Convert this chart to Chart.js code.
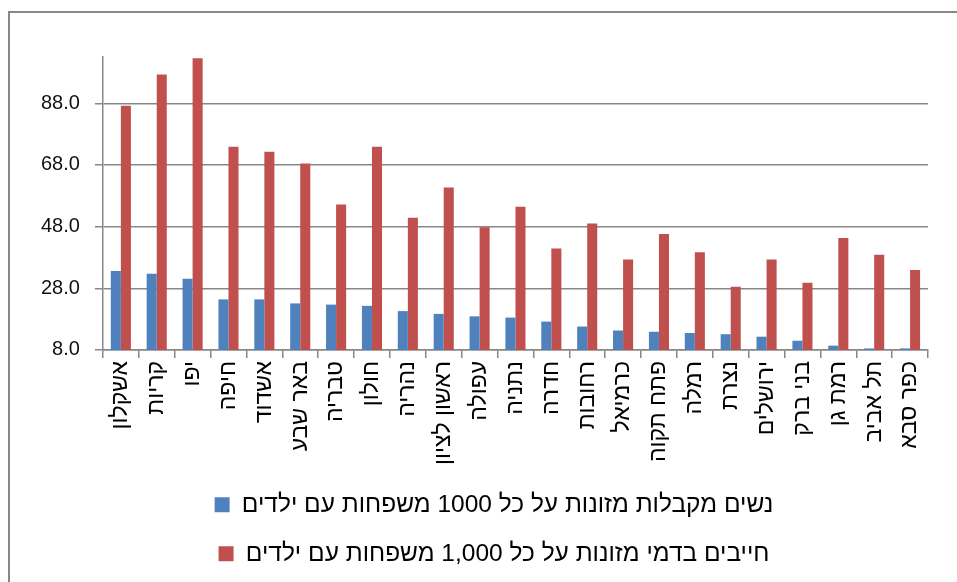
<!DOCTYPE html>
<html>
<head>
<meta charset="utf-8">
<script src="https://cdn.jsdelivr.net/npm/chart.js@4/dist/chart.umd.min.js"></script>
<style>
  html, body { margin: 0; padding: 0; background: #fff; overflow: hidden; }
  #frame { position: absolute; left: 8px; top: 11px; width: 1000px; height: 700px; border: 2px solid #878787; box-sizing: border-box; }
  #wrap { position: absolute; left: 0; top: 0; width: 957px; height: 582px; }
</style>
</head>
<body>
<div id="frame"></div>
<div id="wrap"><canvas id="c" width="957" height="582"></canvas></div>
<script>
const categories = ["אשקלון", "קריות", "יפו", "חיפה", "אשדוד", "באר שבע", "טבריה", "חולון", "נהריה", "ראשון לציון", "עפולה", "נתניה", "חדרה", "רחובות", "כרמיאל", "פתח תקוה", "רמלה", "נצרת", "ירושלים", "בני ברק", "רמת גן", "תל אביב", "כפר סבא"];
const womenReceiving = [33.6, 32.7, 31.1, 24.4, 24.4, 23.1, 22.7, 22.3, 20.6, 19.7, 18.9, 18.5, 17.2, 15.6, 14.3, 13.9, 13.5, 13.1, 12.3, 11.0, 9.4, 8.5, 8.5];
const debtors = [87.2, 97.3, 102.6, 73.9, 72.3, 68.5, 55.2, 73.9, 50.9, 60.7, 47.8, 54.4, 40.9, 49.0, 37.3, 45.6, 39.7, 28.5, 37.3, 29.8, 44.3, 38.9, 33.9];
const seriesNames = ["נשים מקבלות מזונות על כל 1000 משפחות עם ילדים", "חייבים בדמי מזונות על כל 1,000 משפחות עם ילדים"];
const yTicks = [8, 28, 48, 68, 88];
const yMin = 8, yMax = 103;

const legendShift = {
  id: 'legendShift',
  afterLayout(chart) {
    const l = chart.legend;
    if (l) { l.left += 17; l.right += 17; }
  }
};

new Chart(document.getElementById('c'), {
  type: 'bar',
  data: {
    labels: categories,
    datasets: [
      { label: seriesNames[0], data: womenReceiving, backgroundColor: '#4F81BD', borderWidth: 0 },
      { label: seriesNames[1], data: debtors, backgroundColor: '#C0504D', borderWidth: 0 }
    ]
  },
  plugins: [legendShift],
  options: {
    responsive: false,
    animation: false,
    layout: { padding: { left: 26, right: 29, top: 57, bottom: 6 } },
    datasets: { bar: { categoryPercentage: 0.56, barPercentage: 1.0 } },
    plugins: {
      tooltip: { enabled: false },
      legend: {
        position: 'bottom',
        labels: {
          boxWidth: 15, boxHeight: 15, padding: 24.5,
          color: '#000',
          font: { family: 'Liberation Sans', size: 24.5 }
        }
      }
    },
    scales: {
      x: {
        grid: { display: true, drawOnChartArea: false, drawTicks: true, tickLength: 8, color: '#878787', lineWidth: 1.5, offset: true },
        border: { display: true, color: '#878787', width: 1.5 },
        ticks: { minRotation: 90, maxRotation: 90, autoSkip: false, padding: 3, color: '#000', font: { family: 'Liberation Sans', size: 23 } }
      },
      y: {
        min: yMin, max: yMax,
        afterBuildTicks: (axis) => { axis.ticks = yTicks.map(v => ({ value: v })); },
        grid: { color: '#878787', lineWidth: 1.5, tickLength: 8 },
        border: { display: true, color: '#878787', width: 1.5 },
        ticks: { padding: 15, color: '#111', font: { family: 'Liberation Sans', size: 20 }, callback: (v) => Number(v).toFixed(1) }
      }
    }
  }
});
</script>
</body>
</html>
